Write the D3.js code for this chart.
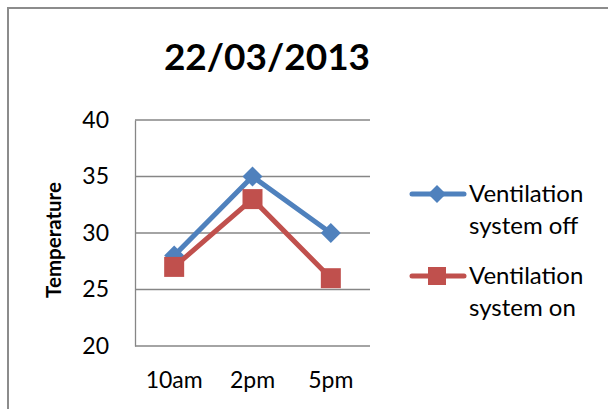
<!DOCTYPE html>
<html>
<head>
<meta charset="utf-8">
<script src="https://cdn.jsdelivr.net/npm/d3@7"></script>
<style>
  html, body { margin: 0; padding: 0; background: #fff; }
  svg { display: block; font-family: Lato, "Open Sans", sans-serif; }
</style>
</head>
<body>
<svg id="chart" width="608" height="409"></svg>
<script>
// Temperatures recorded on 22/03/2013
const categories = ["10am", "2pm", "5pm"];
const ventilationOff = [28, 35, 30];
const ventilationOn = [27, 33, 26];
const yTicks = [20, 25, 30, 35, 40];
const seriesNames = [["Ventilation", "system off"], ["Ventilation", "system on"]];
const chartTitle = "22/03/2013";
const yAxisTitle = "Temperature";

const colors = ["#4F81BD", "#C0504D"];
const gridColor = "#868686";

const svg = d3.select("#chart");

// Chart frame (extends past the window on right and bottom)
svg.append("rect")
  .attr("x", 8).attr("y", 8)
  .attr("width", 620).attr("height", 420)
  .attr("fill", "#fff")
  .attr("stroke", "#8c8c8c")
  .attr("stroke-width", 2);

const plot = { left: 135, right: 370, top: 120, bottom: 346 };

const x = d3.scaleBand().domain(categories).range([plot.left, plot.right]);
const y = d3.scaleLinear().domain([20, 40]).range([plot.bottom, plot.top]);

// Horizontal gridlines
svg.append("g")
  .selectAll("line")
  .data(yTicks.slice(1))
  .join("line")
  .attr("x1", plot.left).attr("x2", plot.right)
  .attr("y1", d => y(d)).attr("y2", d => y(d))
  .attr("stroke", gridColor).attr("stroke-width", 1.3);

// Y axis
const yAxis = svg.append("g")
  .attr("transform", `translate(${plot.left},0)`)
  .call(d3.axisLeft(y).tickValues(yTicks).tickSize(0).tickPadding(26));
yAxis.select(".domain").attr("stroke", gridColor).attr("stroke-width", 1.3);
yAxis.selectAll("text")
  .attr("font-family", "Lato, sans-serif")
  .attr("font-size", 23).attr("fill", "#000");

// X axis
const xAxis = svg.append("g")
  .attr("transform", `translate(0,${plot.bottom})`)
  .call(d3.axisBottom(x).tickSize(0).tickPadding(26));
xAxis.select(".domain")
  .attr("d", `M${plot.left},0H${plot.right}`)
  .attr("stroke", gridColor).attr("stroke-width", 1.3);
xAxis.selectAll("text")
  .attr("font-family", "Lato, sans-serif")
  .attr("font-size", 23).attr("fill", "#000");

// Title
svg.append("text")
  .attr("x", 267).attr("y", 70)
  .attr("text-anchor", "middle")
  .attr("font-family", "Lato, sans-serif")
  .attr("font-weight", "bold")
  .attr("font-size", 37)
  .text(chartTitle);

// Y axis title
svg.append("text")
  .attr("transform", "translate(61,240) rotate(-90)")
  .attr("text-anchor", "middle")
  .attr("font-family", "Lato, sans-serif")
  .attr("font-weight", "bold")
  .attr("font-size", 20.5)
  .text(yAxisTitle);

const cx = d => x(d) + x.bandwidth() / 2;
const line = d3.line().x(d => cx(d.cat)).y(d => y(d.v));

const series = [ventilationOff, ventilationOn].map((vals, i) =>
  vals.map((v, j) => ({ cat: categories[j], v, s: i })));

const diamond = r => `M0,${-r}L${r},0L0,${r}L${-r},0Z`;
const square = r => `M${-r},${-r}H${r}V${r}H${-r}Z`;
const markerPath = [diamond(10), square(10)];

series.forEach((pts, i) => {
  svg.append("path")
    .datum(pts)
    .attr("d", line)
    .attr("fill", "none")
    .attr("stroke", colors[i])
    .attr("stroke-width", 5)
    .attr("stroke-linejoin", "round")
    .attr("stroke-linecap", "round");
  svg.append("g").selectAll("path")
    .data(pts)
    .join("path")
    .attr("transform", d => `translate(${cx(d.cat)},${y(d.v)})`)
    .attr("d", markerPath[i])
    .attr("fill", colors[i]);
});

// Legend
const legend = svg.append("g");
const legendRows = [194, 276];
seriesNames.forEach((lines, i) => {
  const g = legend.append("g").attr("transform", `translate(0,${legendRows[i]})`);
  g.append("line")
    .attr("x1", 412).attr("x2", 464)
    .attr("y1", 0).attr("y2", 0)
    .attr("stroke", colors[i]).attr("stroke-width", 5)
    .attr("stroke-linecap", "round");
  g.append("path")
    .attr("transform", "translate(437,0)")
    .attr("d", i === 0 ? diamond(9) : square(9))
    .attr("fill", colors[i]);
  g.append("text")
    .attr("x", 469).attr("y", 8)
    .attr("font-family", "Lato, sans-serif")
    .attr("font-size", 24)
    .selectAll("tspan")
    .data(lines)
    .join("tspan")
    .attr("x", 469)
    .attr("dy", (d, k) => k === 0 ? 0 : 32)
    .text(d => d);
});
</script>
</body>
</html>
